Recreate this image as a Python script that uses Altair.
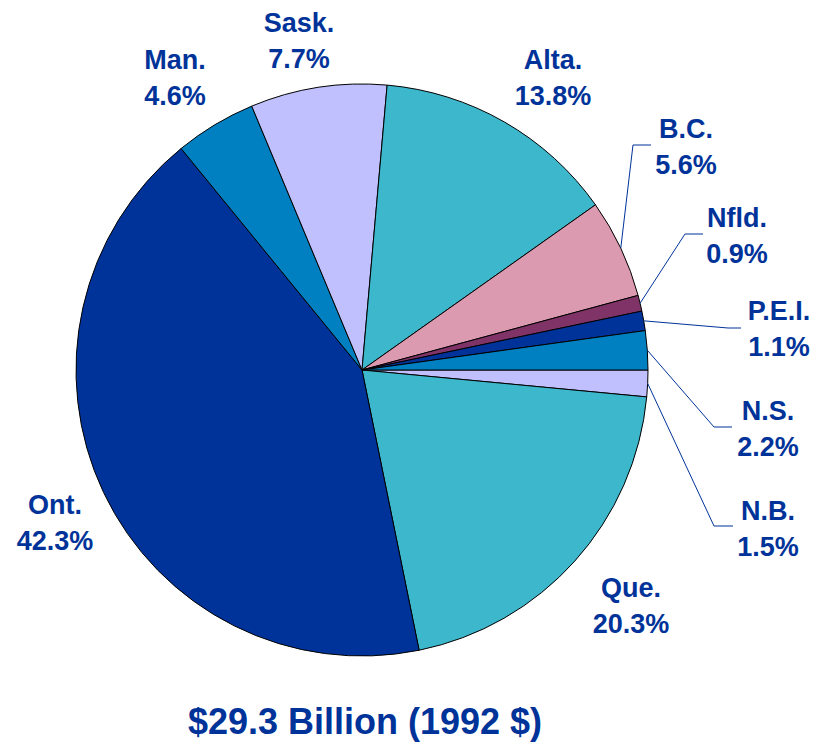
import math
import altair as alt
import pandas as pd

# ---- data (clockwise from 3 o'clock) ----
provinces = ["N.B.", "Que.", "Ont.", "Man.", "Sask.", "Alta.", "B.C.", "Nfld.", "P.E.I.", "N.S."]
shares = [1.5, 20.3, 42.3, 4.6, 7.7, 13.8, 5.6, 0.9, 1.1, 2.2]
colors = ["#C0C0FF", "#3DB7CC", "#003399", "#0080C0", "#C0C0FF",
          "#3DB7CC", "#DC9AB0", "#803366", "#003399", "#0080C0"]
title_text = "$29.3 Billion (1992 $)"

# ---- layout (chart coordinates; page = chart + 8px) ----
CX, CY, R = 354, 362, 286
START = math.pi / 2
label_pos = {  # centre x, first-line baseline
    "Sask.": (291, 24), "Man.": (167, 61), "Alta.": (545, 61),
    "B.C.": (678, 130), "Nfld.": (729, 219), "P.E.I.": (771, 312),
    "N.S.": (760, 412), "N.B.": (760, 512), "Que.": (623, 589),
    "Ont.": (47, 506),
}
leaders = {  # elbow point and end point
    "B.C.": [(625, 137), (643, 137)],
    "Nfld.": [(677, 226), (695, 226)],
    "P.E.I.": [(720, 320), (733, 320)],
    "N.S.": [(706, 419), (724, 419)],
    "N.B.": [(706, 518), (725, 518)],
}
TEXT_COLOR = "#003399"
FONT = "Liberation Sans"

df = pd.DataFrame({"prov": provinces, "share": shares,
                   "order": list(range(len(provinces)))})
df["label"] = [f"{p}\n{s:.1f}%" for p, s in zip(provinces, shares)]
df["lx"] = [label_pos[p][0] for p in provinces]
df["ly"] = [label_pos[p][1] for p in provinces]

# leader segments: start at slice mid-angle on the rim
total = sum(shares)
segs = []
cum = 0.0
for p, s in zip(provinces, shares):
    mid = START + 2 * math.pi * (cum + s / 2) / total
    cum += s
    if p in leaders:
        x0 = CX + R * math.sin(mid)
        y0 = CY - R * math.cos(mid)
        pts = [(x0, y0)] + leaders[p]
        for (a, b), (c, d) in zip(pts[:-1], pts[1:]):
            segs.append({"x": a, "y": b, "x2": c, "y2": d})
seg_df = pd.DataFrame(segs)

W, H = 810, 734
xs = alt.Scale(domain=[0, W], range=[0, W])
ys = alt.Scale(domain=[0, H], range=[0, H])

pie = alt.Chart(df).mark_arc(outerRadius=R, stroke="black", strokeWidth=1).encode(
    theta=alt.Theta("share:Q", stack=True,
                    scale=alt.Scale(range=[START, START + 2 * math.pi])),
    order=alt.Order("order:Q"),
    color=alt.Color("prov:N", scale=alt.Scale(domain=provinces, range=colors), legend=None),
    x=alt.value(CX), y=alt.value(CY),
)

lines = alt.Chart(seg_df).mark_rule(color=TEXT_COLOR, strokeWidth=1).encode(
    x=alt.X("x:Q", scale=xs, axis=None), y=alt.Y("y:Q", scale=ys, axis=None),
    x2="x2:Q", y2="y2:Q",
)

labels = alt.Chart(df).mark_text(
    font=FONT, fontSize=27, fontWeight="bold", color=TEXT_COLOR,
    align="center", baseline="alphabetic", lineBreak="\n", lineHeight=36,
).encode(
    x=alt.X("lx:Q", scale=xs, axis=None), y=alt.Y("ly:Q", scale=ys, axis=None),
    text="label:N",
)

title = alt.Chart(pd.DataFrame({"t": [title_text], "x": [357], "y": [726]})).mark_text(
    font=FONT, fontSize=36, fontWeight="bold", color=TEXT_COLOR,
    align="center", baseline="alphabetic",
).encode(
    x=alt.X("x:Q", scale=xs, axis=None), y=alt.Y("y:Q", scale=ys, axis=None),
    text="t:N",
)

chart = alt.layer(pie, lines, labels, title).properties(
    width=W, height=H, autosize=alt.AutoSizeParams(type="none"), padding=0,
).configure_view(stroke=None).resolve_scale(x="shared", y="shared")

chart.save("out.html", embed_options={"renderer": "svg", "actions": False})
